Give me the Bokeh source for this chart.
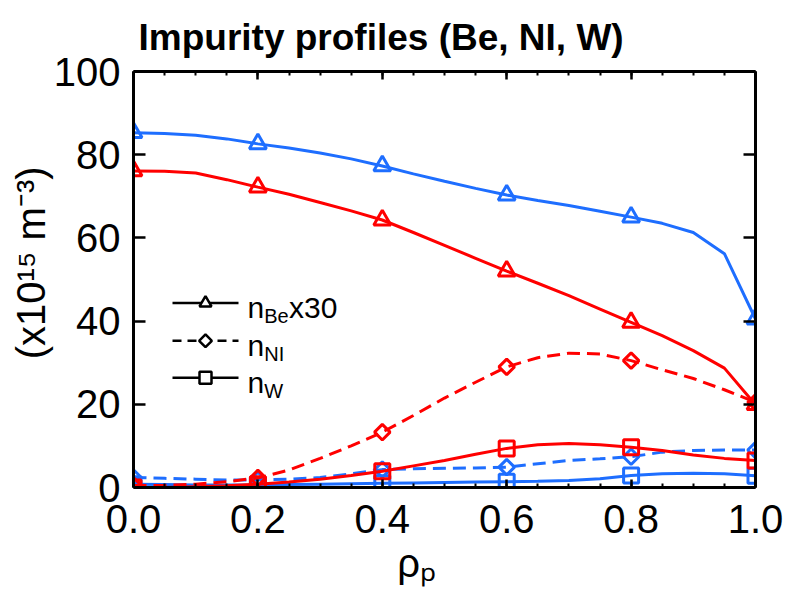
import numpy as np
from bokeh.plotting import figure
from bokeh.models import Range1d, LinearAxis, FixedTicker, PrintfTickFormatter, Label
from bokeh.embed import file_html
from bokeh.resources import INLINE

# ---- profile data (rho_p grid, densities in 1e15 m^-3) ----
rho = [0.00, 0.05, 0.10, 0.15, 0.20, 0.25, 0.30, 0.35, 0.40, 0.45, 0.50,
       0.55, 0.60, 0.65, 0.70, 0.75, 0.80, 0.85, 0.90, 0.95, 1.00]

# blue case
be_blue = [85.3, 85.1, 84.7, 83.8, 82.6, 81.6, 80.4, 79.0, 77.3, 75.4, 73.6,
           71.9, 70.3, 69.0, 67.8, 66.4, 65.0, 63.5, 61.3, 56.2, 40.5]
ni_blue = [2.4, 2.2, 2.0, 1.8, 1.8, 2.0, 2.4, 3.3, 4.3, 4.5, 4.6,
           4.7, 4.9, 5.7, 6.5, 6.9, 7.4, 8.5, 8.9, 9.0, 9.0]
w_blue = [0.8, 0.7, 0.6, 0.6, 0.6, 0.7, 0.8, 0.9, 1.0, 1.1, 1.2,
          1.3, 1.4, 1.5, 1.7, 2.1, 2.9, 3.3, 3.4, 3.3, 2.8]

# red case
be_red = [76.1, 76.0, 75.6, 74.0, 72.2, 70.5, 68.5, 66.5, 64.3, 61.3, 58.2,
          55.1, 52.0, 49.1, 46.1, 42.9, 39.7, 36.5, 32.9, 28.7, 19.9]
ni_red = [0.5, 0.5, 0.8, 1.4, 2.3, 4.2, 7.0, 10.0, 13.3, 17.3, 21.5,
          25.3, 29.0, 31.2, 32.3, 32.1, 30.5, 28.3, 26.2, 23.5, 20.5]
w_red = [0.0, 0.0, 0.2, 0.4, 0.8, 1.3, 2.0, 2.9, 3.9, 5.2, 6.5,
         8.0, 9.4, 10.3, 10.6, 10.3, 9.7, 8.9, 7.8, 7.0, 6.5]

x_ticks = [0.0, 0.2, 0.4, 0.6, 0.8, 1.0]
y_ticks = [0, 20, 40, 60, 80, 100]

BLUE = "#1E6EFF"
RED = "#FF0000"
FONT = "Liberation Sans"
NB = "\u00a0"

W, H = 788, 590
FL, FR, FT, FB = 133, 755, 70, 487   # frame edges in pixels


def dx(px):
    return (px - FL) / (FR - FL)


def dy(py):
    return (FB - py) * 100.0 / (FB - FT)


p = figure(width=W, height=H, output_backend="svg", toolbar_location=None,
           x_range=Range1d(0, 1), y_range=Range1d(0, 100),
           min_border_left=FL, min_border_right=W - FR,
           min_border_top=FT, min_border_bottom=H - FB)
p.xgrid.visible = False
p.ygrid.visible = False
p.outline_line_color = None
p.background_fill_color = "white"
p.border_fill_color = "white"

# title
p.title.text = "Impurity profiles (Be, NI, W)"
p.title.text_font = FONT
p.title.text_font_style = "bold"
p.title.text_font_size = "37px"
p.title.text_color = "black"
p.title.align = "left"
p.title.offset = 5
p.title.standoff = 28

minor_x = [round(0.05 * i, 2) for i in range(21)]


def style_x(ax, labels=True):
    ax.ticker = FixedTicker(ticks=x_ticks, minor_ticks=minor_x)
    ax.axis_line_width = 3
    ax.major_tick_in = 8
    ax.major_tick_out = 0
    ax.minor_tick_in = 4
    ax.minor_tick_out = 0
    ax.major_tick_line_width = 2.5
    ax.minor_tick_line_width = 2
    if labels:
        ax.formatter = PrintfTickFormatter(format="%.1f")
        ax.major_label_text_font = FONT
        ax.major_label_text_font_size = "40px"
        ax.major_label_text_color = "black"
        ax.major_label_standoff = 17
    else:
        ax.major_label_text_font_size = "1px"
        ax.major_label_text_color = None
        ax.major_label_standoff = 0


def style_y(ax, labels=True):
    ax.ticker = FixedTicker(ticks=y_ticks, minor_ticks=[])
    ax.axis_line_width = 3
    ax.major_tick_in = 12
    ax.major_tick_out = 0
    ax.minor_tick_in = 0
    ax.minor_tick_out = 0
    ax.major_tick_line_width = 2.5
    if labels:
        ax.major_label_text_font = FONT
        ax.major_label_text_font_size = "40px"
        ax.major_label_text_color = "black"
        ax.major_label_standoff = 13
    else:
        ax.major_label_text_font_size = "1px"
        ax.major_label_text_color = None
        ax.major_label_standoff = 0


bottom_ax = p.below[0]
left_ax = p.left[0]
style_x(bottom_ax)
style_y(left_ax)
top_ax = LinearAxis()
style_x(top_ax, labels=False)
p.add_layout(top_ax, "above")
right_ax = LinearAxis()
style_y(right_ax, labels=False)
p.add_layout(right_ax, "right")

# axis titles
left_ax.axis_label = NB * 3 + "(x10\u00b9\u2075 m\u207b\u00b3)"
left_ax.axis_label_text_font = FONT
left_ax.axis_label_text_font_style = "normal"
left_ax.axis_label_text_font_size = "40px"
left_ax.axis_label_text_color = "black"
left_ax.axis_label_standoff = -2

bottom_ax.axis_label = "\u03c1\u209a" + NB * 5
bottom_ax.axis_label_text_font = FONT
bottom_ax.axis_label_text_font_style = "normal"
bottom_ax.axis_label_text_font_size = "40px"
bottom_ax.axis_label_text_color = "black"
bottom_ax.axis_label_standoff = 5

# ---- profiles ----
mk = slice(0, None, 4)   # markers at rho = 0, 0.2, ..., 1.0
rho_m = rho[mk]
series = [
    (be_blue, BLUE, "solid", "triangle", 17, 0),
    (ni_blue, BLUE, "13 7", "square", 11, np.pi / 4),
    (w_blue, BLUE, "solid", "square", 15, 0),
    (be_red, RED, "solid", "triangle", 17, 0),
    (ni_red, RED, "13 7", "square", 11, np.pi / 4),
    (w_red, RED, "solid", "square", 15, 0),
]
for vals, col, dash, marker, size, ang in series:
    p.line(rho, vals, line_color=col, line_width=3, line_dash=dash)
    p.scatter(rho_m, vals[mk], marker=marker, size=size, angle=ang,
              fill_color=None, line_color=col, line_width=3)

# ---- key ----
key_rows = [("Be", "x30", "solid", "triangle", 12, 0, 302),
            ("NI", "", "9 6", "square", 9, np.pi / 4, 340),
            ("W", "", "solid", "square", 12, 0, 377)]
for sub, tail, dash, marker, size, ang, ry in key_rows:
    p.line([dx(172), dx(238)], [dy(ry), dy(ry)], line_color="black",
           line_width=2.5, line_dash=dash)
    p.scatter([dx(205)], [dy(ry)], marker=marker, size=size, angle=ang,
              fill_color="white", line_color="black", line_width=2.5)
    base = ry + 5
    p.add_layout(Label(x=dx(247), y=dy(base), text="n", text_font=FONT,
                       text_color="black", text_font_size="30px",
                       text_baseline="alphabetic"))
    p.add_layout(Label(x=dx(263.7), y=dy(base + 8), text=sub, text_font=FONT,
                       text_color="black", text_font_size="20px",
                       text_baseline="alphabetic"))
    if tail:
        p.add_layout(Label(x=dx(288.5), y=dy(base), text=tail, text_font=FONT,
                           text_color="black", text_font_size="30px",
                           text_baseline="alphabetic"))

open("out.html", "w").write(file_html(p, INLINE))
